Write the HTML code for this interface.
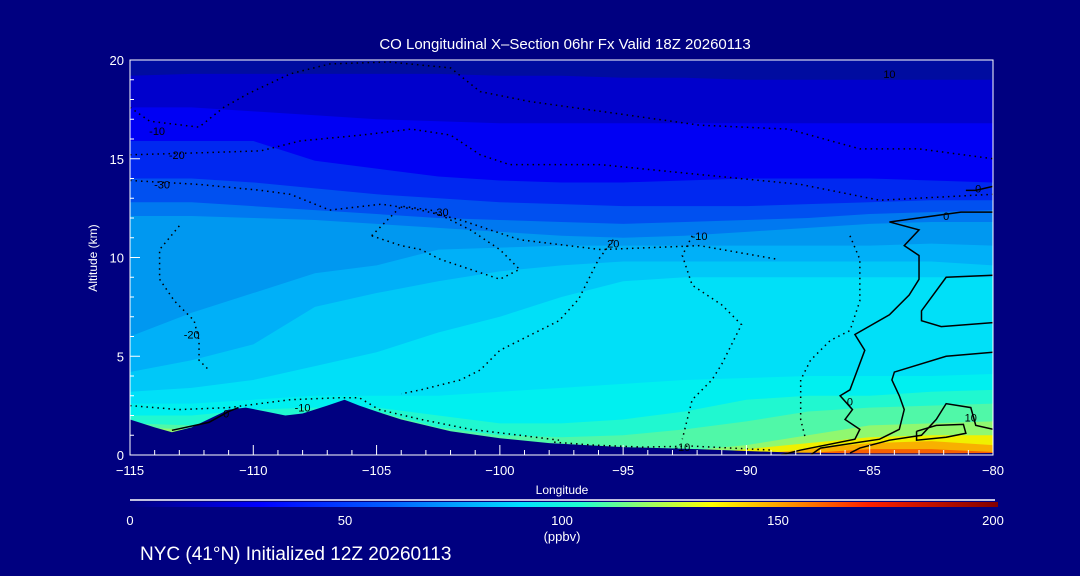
<!DOCTYPE html>
<html><head><meta charset="utf-8">
<style>
html,body{margin:0;padding:0;background:#000080;}
svg{display:block;font-family:"Liberation Sans",sans-serif;}
</style></head>
<body>
<svg id="chart" width="1080" height="576" viewBox="0 0 1080 576">
<rect x="0" y="0" width="1080" height="576" fill="#000080"/>
<defs>
<clipPath id="pc"><rect x="130" y="60" width="863" height="395"/></clipPath>
<linearGradient id="cbg" x1="0" x2="1" y1="0" y2="0">
<stop offset="0" stop-color="#000080"/><stop offset="0.08" stop-color="#0000c0"/><stop offset="0.15" stop-color="#0000ff"/>
<stop offset="0.3" stop-color="#0060ff"/><stop offset="0.45" stop-color="#00e0ff"/><stop offset="0.52" stop-color="#20ffd0"/>
<stop offset="0.6" stop-color="#a0ff60"/><stop offset="0.67" stop-color="#ffff00"/><stop offset="0.75" stop-color="#ffa000"/>
<stop offset="0.85" stop-color="#ff2000"/><stop offset="1" stop-color="#800000"/></linearGradient>
</defs>
<g id="plot" clip-path="url(#pc)"></g>
<g id="axes"></g>
<text x="565" y="49" fill="#fff" font-size="15" text-anchor="middle">CO Longitudinal X–Section 06hr  Fx Valid 18Z 20260113</text>
<text x="562" y="494" fill="#fff" font-size="12" text-anchor="middle">Longitude</text>
<text x="97" y="258" fill="#fff" font-size="12" text-anchor="middle" transform="rotate(-90 97 258)">Altitude (km)</text>
<line x1="130" y1="500" x2="995" y2="500" stroke="#fff" stroke-width="1.5"/>
<rect x="130" y="502" width="868" height="5" fill="url(#cbg)"/>
<g fill="#fff" font-size="13" text-anchor="middle">
<text x="130" y="525">0</text><text x="345" y="525">50</text><text x="562" y="525">100</text><text x="778" y="525">150</text><text x="993" y="525">200</text>
<text x="562" y="541">(ppbv)</text></g>
<text x="140" y="560" fill="#fff" font-size="19">NYC (41°N) Initialized 12Z 20260113</text>
</svg>
<script>
const lons=[-115,-112.5,-110,-107.5,-105,-102.5,-100,-97.5,-95,-92.5,-90,-87.5,-85,-82.5,-80];
const bandColors=["#0000cc","#0000f4","#0028f0","#0050f0","#0078f0","#0098f0","#00b0f8","#00c8f8","#00e0f8","#00f0f0","#20f8d0","#50f8a8","#90f870","#f0f000","#f8b000","#f86000"];
const L1=[19.2,19.3,19.3,19.3,19.3,19.3,19.2,19.2,19.1,19.1,19.0,19.0,19.0,19.0,19.0];
const L2=[17.6,17.6,17.4,17.2,17.0,16.9,16.8,16.8,16.8,16.8,16.8,16.8,16.8,16.8,16.8];
const L3=[15.9,15.9,15.9,14.9,14.5,14.1,13.9,13.8,13.8,13.9,14.0,14.0,14.0,13.9,13.8];
const L4=[14.0,14.0,13.8,13.5,13.2,13.0,12.8,12.7,12.6,12.6,12.6,12.7,12.8,12.9,12.9];
const L5=[12.8,12.8,12.6,12.4,12.2,12.0,11.9,11.8,11.7,11.8,11.9,12.0,12.2,12.3,12.4];
const L6=[12.1,12.1,12.0,11.9,11.7,11.5,11.3,11.1,11.0,11.1,11.3,11.5,11.7,11.8,11.8];
const L7=[6.0,7.2,8.2,9.2,9.6,10.4,10.5,10.6,10.6,10.6,10.6,10.6,10.6,10.7,10.6];
const L8=[4.2,4.8,5.6,7.5,8.2,8.8,9.3,9.6,9.8,9.8,9.8,9.8,9.8,9.8,9.6];
const L9=[3.2,3.4,3.8,4.5,5.2,6.2,7.0,8.0,8.8,9.0,9.0,9.0,9.0,9.0,9.0];
const L10=[2.6,2.6,2.8,3.0,3.0,3.0,3.2,3.4,3.6,3.8,3.9,4.0,4.0,4.0,4.1];
const L11=[2.0,2.0,2.3,2.4,2.4,2.0,1.6,1.6,1.8,2.2,2.8,3.0,3.0,3.2,3.3];
const L12=[1.6,1.5,2.0,2.0,2.2,1.4,1.0,0.9,1.0,1.3,1.7,2.2,2.4,2.5,2.6];
const L13=[1.4,1.3,0,0,0,0,0,0,0,0.2,0.5,1.0,1.5,1.6,1.7];
const L14=[0,1.2,0,0,0,0,0,0,0,0,0.3,0.6,0.9,1.0,1.0];
const L15=[0,0,0,0,0,0,0,0,0,0,0,0.3,0.6,0.7,0.5];
const L16=[0,0,0,0,0,0,0,0,0,0,0,0.1,0.3,0.3,0.15];
const levels=[L1,L2,L3,L4,L5,L6,L7,L8,L9,L10,L11,L12,L13,L14,L15,L16];
const terrLon=[-115,-114,-113.3,-112.5,-111.5,-111,-110.3,-109.5,-108.7,-108,-107,-106.3,-105.7,-105,-104,-103,-102,-100,-98,-95,-92,-90,-88,-85,-82,-80];
const terrAlt=[1.8,1.4,1.15,1.4,2.0,2.3,2.4,2.2,2.0,2.1,2.5,2.8,2.5,2.2,1.8,1.5,1.2,0.85,0.6,0.4,0.3,0.2,0.12,0.08,0.08,0.1];
// contours: [lon, alt] pairs
const dotted=[
[[-115,17.6],[-114.2,16.9],[-112.2,16.6],[-111.2,17.6],[-110.2,18.3],[-108.5,19.3],[-106.9,19.8],[-104.5,19.9],[-102,19.6],[-100.8,18.4],[-98.8,17.9],[-95.9,17.4],[-91.9,16.7],[-88.3,16.5],[-85.4,15.5],[-83,15.5],[-80,15.0]],
[[-115,15.2],[-112.2,15.3],[-109.7,15.4],[-108.1,15.9],[-105.6,16.2],[-103.6,16.5],[-102,16.2],[-100.8,15.2],[-99.6,14.7],[-95.9,14.7],[-91.9,14.2],[-87.8,13.7],[-84.6,12.9],[-80,13.2]],
[[-115,13.9],[-112.2,13.7],[-109.7,13.4],[-108.5,13.2],[-106.9,12.4],[-104.8,12.7],[-103.2,12.4],[-101.6,11.9],[-99.2,10.9],[-95.9,10.4],[-91.9,10.6],[-88.7,9.9]],
[[-113,11.6],[-113.8,10.4],[-113.8,8.9],[-113.2,7.8],[-112.4,6.8],[-112.2,5.8],[-112.2,4.8],[-111.8,4.3]],
[[-95.4,10.9],[-96,9.9],[-96.4,8.9],[-96.8,7.9],[-97.6,6.8],[-98.4,6.3],[-99.2,5.8],[-100,5.3],[-100.8,4.3],[-101.6,3.8],[-103.2,3.3],[-104,3.1]],
[[-92.2,11.1],[-92.6,10.1],[-92.2,8.6],[-91,7.6],[-90.2,6.6],[-90.6,5.6],[-91,4.6],[-91.4,3.8],[-92.2,2.8],[-92.6,0.8]],
[[-85.8,11.1],[-85.4,9.9],[-85.4,7.8],[-85.8,6.3],[-86.6,5.8],[-87.4,4.8],[-87.8,3.8],[-87.8,1.8],[-87.6,0.8]],
[[-97.8,0.65],[-96.2,0.5],[-94.2,0.4],[-92.2,0.45],[-89,0.25]],
[[-115,2.5],[-113,2.3],[-111,2.4],[-108.5,2.8],[-106.5,2.9],[-105.7,2.9],[-104.9,2.3],[-103.2,1.8],[-101.2,1.3],[-99.2,1.0],[-97.6,0.75]],
[[-105.2,11.1],[-104,12.6],[-102.8,12.4],[-101.2,11.4],[-100,10.4],[-99.2,9.4],[-100,8.9],[-101.2,9.4],[-102.4,9.9],[-103.2,10.4],[-104,10.6],[-105.2,11.1]]];
const solid=[
[[-80,12.3],[-81.3,12.3],[-84.2,11.8],[-83,11.4],[-83.6,10.6],[-83,10.1],[-83,8.9],[-83.4,8.1],[-84.2,7.1],[-85.6,6.1],[-85.2,5.3],[-85.8,3.3],[-86.2,3.0],[-85.7,2.3],[-86,1.8],[-85.4,1.3],[-85.6,0.8],[-87.8,0.25],[-88.6,0]],
[[-80,9.1],[-81.9,9.0],[-82.9,7.3],[-82.9,6.8],[-82.1,6.5],[-80,6.7]],
[[-80,5.2],[-81.9,5.0],[-84,4.2],[-84.1,3.8],[-83.8,3.0],[-83.6,2.3],[-83.8,1.3],[-84.6,0.8],[-87,0.35],[-87.4,0]],
[[-80,1.3],[-80.7,1.5],[-80.9,2.4],[-81.9,2.6],[-82.3,1.8],[-82.9,1.0],[-84.2,0.75],[-85.4,0.35],[-85.8,0.1]],
[[-83.1,1.2],[-82.3,1.5],[-81.2,1.55],[-81.1,1.1],[-81.9,0.9],[-83.1,0.75],[-83.1,1.2]],
[[-113.3,1.25],[-111.8,1.65],[-111,2.2],[-110.6,2.4]],
[[-80,13.6],[-80.7,13.4],[-81.1,13.4]]];
const labels=[["-10",-113.9,16.4],["-20",-113.1,15.2],["-30",-113.7,13.7],["-30",-102.4,12.3],["-20",-112.5,6.1],["20",-95.4,10.7],["-10",-91.9,11.1],["0",-81.9,12.1],["0",-80.6,13.5],["0",-85.8,2.7],["10",-80.9,1.9],["-10",-108,2.4],["-10",-92.6,0.4],["0",-111.1,2.1],["10",-84.2,19.3]];

const NS="http://www.w3.org/2000/svg";
const X=l=>130+(l+115)*863/35;
const Y=a=>455-a*19.75;
const plot=document.getElementById('plot');
const axes=document.getElementById('axes');
function mk(tag,attrs,parent){const e=document.createElementNS(NS,tag);for(const k in attrs)e.setAttribute(k,attrs[k]);parent.appendChild(e);return e;}

const bg=mk('rect',{x:130,y:60,width:863,height:395,fill:'#000ca0'},plot);


levels.forEach((lv,i)=>{
  let d='M'+X(lons[0])+','+Y(lv[0]);
  for(let j=1;j<lons.length;j++) d+=' L'+X(lons[j])+','+Y(lv[j]);
  d+=' L'+X(lons[lons.length-1])+',460 L'+X(lons[0])+',460 Z';
  const p=mk('path',{d:d,fill:bandColors[i]},plot);
  
  
});
let td='M'+X(terrLon[0])+',460';
terrLon.forEach((l,i)=>{td+=' L'+X(l)+','+Y(terrAlt[i]);});
td+=' L'+X(terrLon[terrLon.length-1])+',460 Z';
const terr=mk('path',{d:td,fill:'#000080'},plot);


function poly(pts){return pts.map(p=>X(p[0])+','+Y(p[1])).join(' ');}
dotted.forEach((c,i)=>{
  const e=mk('polyline',{points:poly(c),fill:'none',stroke:'#000','stroke-width':1.5,'stroke-dasharray':'1.5 4'},plot);
  
  
});
solid.forEach((c,i)=>{
  const e=mk('polyline',{points:poly(c),fill:'none',stroke:'#000','stroke-width':1.5},plot);
  
  
});
labels.forEach((lb)=>{
  const t=mk('text',{x:X(lb[1]),y:Y(lb[2])+4,fill:'#000','font-size':11,'text-anchor':'middle'},plot);
  t.textContent=lb[0];
  
  
});
// frame
const fr=mk('rect',{x:130,y:60,width:863,height:395,fill:'none',stroke:'#fff','stroke-width':1},axes);


const xTicks=[-115,-110,-105,-100,-95,-90,-85,-80];
const yTicks=[0,5,10,15,20];
for(let l=-115;l<=-80;l++){
  const maj=(l%5===0);
  const t=mk('line',{x1:X(l),x2:X(l),y1:455,y2:455-(maj?10:5),stroke:'#fff','stroke-width':1},axes);
  
  
}
xTicks.forEach(l=>{
  const t=mk('text',{x:X(l),y:475,fill:'#fff','font-size':13,'text-anchor':'middle'},axes);
  t.textContent=(l<0?'−':'')+Math.abs(l);
  
  
});
for(let a=0;a<=20;a++){
  const maj=(a%5===0);
  const t=mk('line',{x1:130,x2:130+(maj?10:4),y1:Y(a),y2:Y(a),stroke:'#fff','stroke-width':1},axes);
  
  
}
yTicks.forEach(a=>{
  const t=mk('text',{x:124,y:Y(a)+5,fill:'#fff','font-size':13,'text-anchor':'end'},axes);
  t.textContent=a;
  
  
});
</script>
</body></html>
